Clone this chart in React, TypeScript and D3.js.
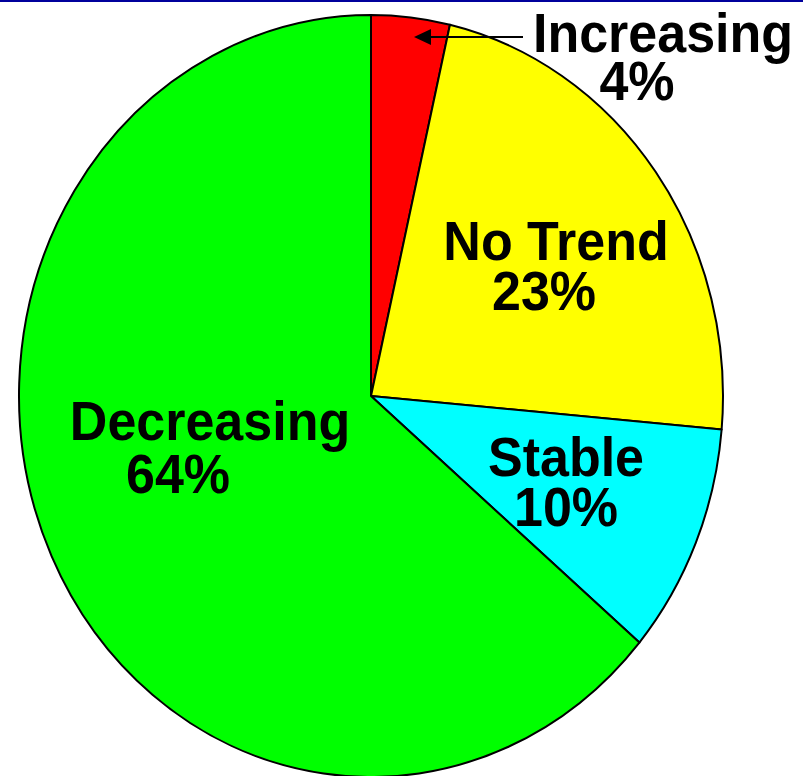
import React, { useEffect, useRef } from "react";
import * as d3 from "d3";

// slices, clockwise from 12 o'clock
const categories = ["Increasing", "No Trend", "Stable", "Decreasing"];
const shares = [3.6, 22.8, 9.8, 63.8];
const percentLabels = ["4%", "23%", "10%", "64%"];
const sliceColors = ["#ff0000", "#ffff00", "#00ffff", "#00ff00"];

// where each two-line label sits (centre x of each line, baselines)
const labelLayout = [
  { x1: 663, y1: 52, x2: 637, y2: 100 },
  { x1: 556, y1: 260, x2: 544, y2: 310 },
  { x1: 566, y1: 476, x2: 566, y2: 526 },
  { x1: 210, y1: 440, x2: 178, y2: 493 },
];

const App: React.FC = () => {
  const svgRef = useRef<SVGSVGElement>(null);

  useEffect(() => {
    const width = 803;
    const height = 776;
    const cx = 371;
    const cy = 396;
    const rx = 352;
    const ry = 381;

    const svg = d3.select(svgRef.current);
    svg.selectAll("*").remove();
    svg.attr("width", width).attr("height", height);

    svg
      .append("rect")
      .attr("x", 0)
      .attr("y", 0)
      .attr("width", width)
      .attr("height", height)
      .attr("fill", "#ffffff");

    // navy rule at the very top
    svg
      .append("rect")
      .attr("x", 0)
      .attr("y", 0)
      .attr("width", width)
      .attr("height", 2)
      .attr("fill", "#00009c");

    const pie = d3
      .pie<number>()
      .sort(null)
      .value((d) => d);

    const arc = d3.arc<d3.PieArcDatum<number>>().innerRadius(0).outerRadius(rx);

    // pie is drawn as a circle and stretched a bit vertically, like the original
    const g = svg
      .append("g")
      .attr("transform", `translate(${cx},${cy}) scale(1,${ry / rx})`);

    g.selectAll("path")
      .data(pie(shares))
      .enter()
      .append("path")
      .attr("d", arc)
      .attr("fill", (_d, i) => sliceColors[i])
      .attr("stroke", "#000")
      .attr("stroke-width", 2)
      .attr("stroke-linejoin", "round")
      .attr("vector-effect", "non-scaling-stroke");

    // leader arrow for the small slice
    svg
      .append("line")
      .attr("x1", 523)
      .attr("y1", 37)
      .attr("x2", 420)
      .attr("y2", 37)
      .attr("stroke", "#000")
      .attr("stroke-width", 2);

    svg
      .append("path")
      .attr("d", "M414,37 L431,29 L431,45 Z")
      .attr("fill", "#000");

    const stretch = ry / rx;
    const labels = svg.append("g");
    categories.forEach((name, i) => {
      const p = labelLayout[i];
      [
        { t: name, x: p.x1, y: p.y1 },
        { t: percentLabels[i], x: p.x2, y: p.y2 },
      ].forEach((line) => {
        labels
          .append("text")
          .attr("transform", `translate(${line.x},${line.y}) scale(1,${stretch})`)
          .attr("text-anchor", "middle")
          .attr("font-family", "'Liberation Sans', Arial, sans-serif")
          .attr("font-weight", "bold")
          .attr("font-size", 52)
          .attr("fill", "#000")
          .text(line.t);
      });
    });
  }, []);

  return (
    <div style={{ position: "absolute", left: 0, top: 0, width: 803, height: 776 }}>
      <svg ref={svgRef} style={{ display: "block" }}></svg>
    </div>
  );
};

export default App;
